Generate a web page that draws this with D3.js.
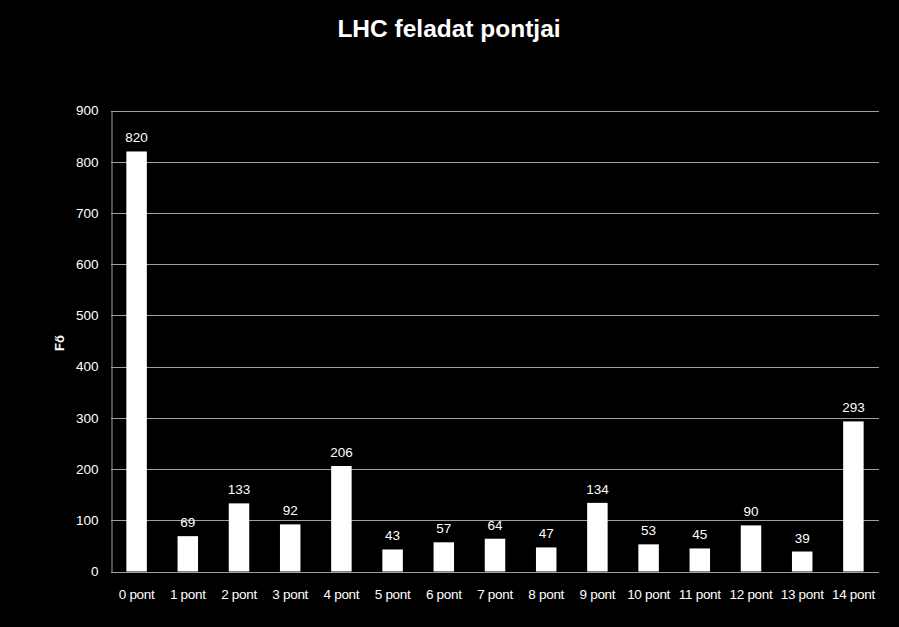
<!DOCTYPE html>
<html><head><meta charset="utf-8">
<script src="https://cdn.jsdelivr.net/npm/d3@7"></script>
<style>html,body{margin:0;padding:0;background:#000;}svg{display:block;}</style>
</head><body>
<svg id="c" width="899" height="627"></svg>
<script>
const categories = ["0 pont","1 pont","2 pont","3 pont","4 pont","5 pont","6 pont","7 pont","8 pont","9 pont","10 pont","11 pont","12 pont","13 pont","14 pont"];
const values = [820,69,133,92,206,43,57,64,47,134,53,45,90,39,293];
const yTicks = [0,100,200,300,400,500,600,700,800,900];
const title = "LHC feladat pontjai";
const yLabel = "Fő";

const svg = d3.select("#c");
const m = {left:111, right:20, top:110.5, bottom:55.5};
const W = 899, H = 627;
const x = d3.scaleBand().domain(categories).range([m.left, W - m.right]).paddingInner(0.6).paddingOuter(0.3);
const y = d3.scaleLinear().domain([0,900]).range([H - m.bottom, m.top]);
const font = "'Liberation Sans', Arial, sans-serif";

svg.append("rect").attr("width",W).attr("height",H).attr("fill","#000");

// gridlines
svg.append("g").selectAll("line").data(yTicks).join("line")
  .attr("x1", m.left).attr("x2", W - m.right)
  .attr("y1", d => Math.round(y(d)) + 0.5).attr("y2", d => Math.round(y(d)) + 0.5)
  .attr("stroke", "#a0a0a0").attr("stroke-width", 1);

// y axis
const ya = svg.append("g").attr("transform", `translate(${m.left + 0.5},0)`)
  .call(d3.axisLeft(y).tickValues(yTicks).tickSize(0).tickPadding(13));
ya.select(".domain").attr("stroke", "#a0a0a0");
ya.selectAll("text").attr("fill","#fff").attr("font-family",font).attr("font-size","13.5px");

// x axis
const xa = svg.append("g").attr("transform", `translate(0,${Math.round(y(0)) + 0.5})`)
  .call(d3.axisBottom(x).tickSize(0).tickPadding(17));
xa.select(".domain").remove();
xa.selectAll("text").attr("fill","#fff").attr("font-family",font).attr("font-size","13.5px").attr("letter-spacing","-0.3px");

// bars
svg.append("g").selectAll("rect").data(values).join("rect")
  .attr("x", (d,i) => x(categories[i]))
  .attr("width", x.bandwidth())
  .attr("y", d => y(d))
  .attr("height", d => y(0) - y(d))
  .attr("fill", "#fff");

// value labels
svg.append("g").selectAll("text").data(values).join("text")
  .attr("x", (d,i) => x(categories[i]) + x.bandwidth()/2)
  .attr("y", d => y(d) - 9)
  .attr("text-anchor","middle").attr("fill","#fff")
  .attr("font-family",font).attr("font-size","13.5px")
  .text(d => d);

// title
svg.append("text").attr("x", 449).attr("y", 37).attr("text-anchor","middle")
  .attr("fill","#fff").attr("font-family",font).attr("font-weight","bold").attr("font-size","24.5px")
  .text(title);

// y label
svg.append("text").attr("transform","translate(64,343) rotate(-90)").attr("text-anchor","middle")
  .attr("fill","#fff").attr("font-family",font).attr("font-weight","bold").attr("font-size","13px")
  .text(yLabel);
</script>
</body></html>
